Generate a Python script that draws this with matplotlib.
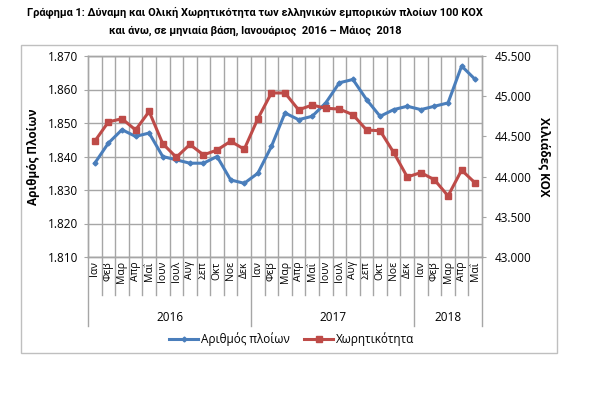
import matplotlib
matplotlib.use("Agg")
import matplotlib.pyplot as plt
from matplotlib.lines import Line2D
from matplotlib.patches import Rectangle
from matplotlib.ticker import FuncFormatter, MultipleLocator

plt.rcParams['font.family'] = ['Open Sans', 'DejaVu Sans']

months = ["Ιαν", "Φεβ", "Μαρ", "Απρ", "Μαΐ", "Ιουν", "Ιουλ", "Αυγ", "Σεπ", "Οκτ", "Νοε", "Δεκ",
          "Ιαν", "Φεβ", "Μαρ", "Απρ", "Μαΐ", "Ιουν", "Ιουλ", "Αυγ", "Σεπ", "Οκτ", "Νοε", "Δεκ",
          "Ιαν", "Φεβ", "Μαρ", "Απρ", "Μαΐ"]
years = ["2016", "2017", "2018"]
year_counts = [12, 12, 5]

ships = [1838, 1844, 1848, 1846, 1847, 1840, 1839, 1838, 1838, 1840, 1833, 1832,
         1835, 1843, 1853, 1851, 1852, 1856, 1862, 1863, 1857, 1852, 1854, 1855,
         1854, 1855, 1856, 1867, 1863]
capacity = [44440, 44680, 44720, 44580, 44810, 44410, 44240, 44400, 44270, 44330, 44440, 44340,
            44720, 45040, 45040, 44830, 44890, 44850, 44840, 44770, 44580, 44570, 44300, 43995,
            44050, 43960, 43760, 44080, 43920]

title = ("Γράφημα 1: Δύναμη και Ολική Χωρητικότητα των ελληνικών εμπορικών πλοίων 100 ΚΟΧ\n"
         "και άνω, σε μηνιαία βάση, Ιανουάριος  2016 – Μάιος  2018")

W, H = 590, 393
fig = plt.figure(figsize=(W / 100, H / 100), dpi=100)
fig.patch.set_facecolor("white")

# outer chart border
fig.patches.append(Rectangle((21 / W, 1 - 353 / H), 536 / W, 308 / H, transform=fig.transFigure,
                             fill=False, edgecolor="#bfbfbf", linewidth=1.0))

fig.text(255 / W, 1 - 21 / H, title, ha="center", va="center", fontsize=7.9,
         fontweight="bold", linespacing=2.0,
         family=['Roboto', 'DejaVu Sans'])

ax = fig.add_axes([88 / W, 1 - 257 / H, (482 - 88) / W, (257 - 56) / H])
ax2 = ax.twinx()

x = list(range(len(months)))
blue = "#4a7ebb"
red = "#be4b48"
grid_c = "#a6a6a6"

ax.plot(x, ships, color=blue, linewidth=2.2, marker="D", markersize=2.5, zorder=3)
ax2.plot(x, capacity, color=red, linewidth=2.2, marker="s", markersize=4, zorder=3)

ax.set_xlim(-0.5, len(months) - 0.5)
ax.set_ylim(1810, 1870)
ax2.set_ylim(43000, 45500)
ax.yaxis.set_major_locator(MultipleLocator(10))
ax2.yaxis.set_major_locator(MultipleLocator(500))
fmt = FuncFormatter(lambda v, p: f"{int(round(v)):,}".replace(",", "."))
ax.yaxis.set_major_formatter(fmt)
ax2.yaxis.set_major_formatter(fmt)

ax.set_xticks(x)
ax.set_xticklabels(months, rotation=90, fontsize=7.5, va="top", ha="center")
ax.set_xticks([i - 0.5 for i in range(1, len(months))], minor=True)
ax.tick_params(axis="x", which="both", length=0, pad=3)
ax.tick_params(axis="y", labelsize=8.5, length=3, color=grid_c, pad=4)
ax2.tick_params(axis="y", labelsize=8.5, length=3, color=grid_c, pad=6)

ax.grid(axis="y", which="major", color=grid_c, linewidth=1.0)
ax.grid(axis="x", which="minor", color=grid_c, linewidth=1.0)
ax.set_axisbelow(True)
for a in (ax, ax2):
    for s in a.spines.values():
        s.set_color(grid_c)
        s.set_linewidth(1.0)

ax.set_ylabel("Αριθμός Πλοίων", fontsize=8.5, fontweight="bold", labelpad=6)
ax2.set_ylabel("Χιλιάδες ΚΟΧ", fontsize=8.5, fontweight="bold", rotation=270, labelpad=14)

# category separators below axis
tr = ax.get_xaxis_transform()
bounds = [-0.5]
c = -0.5
for n in year_counts:
    c += n
    bounds.append(c)
for i in range(len(months) + 1):
    b = i - 0.5
    depth = -0.343 if b in bounds else -0.189
    ax.plot([b, b], [0, depth], transform=tr, color=grid_c, linewidth=1.0, clip_on=False)
start = 0
for yl, n in zip(years, year_counts):
    ax.text(start + (n - 1) / 2, -0.30, yl, transform=tr, ha="center", va="center", fontsize=8.5)
    start += n

handles = [Line2D([], [], color=blue, linewidth=2.2, marker="D", markersize=2.5),
           Line2D([], [], color=red, linewidth=2.2, marker="s", markersize=4)]
fig.legend(handles, ["Αριθμός πλοίων", "Χωρητικότητα"], loc="center",
           bbox_to_anchor=(292 / W, 1 - 339 / H), ncol=2, frameon=False, fontsize=8.5,
           handlelength=2.4, handletextpad=0.3, columnspacing=1.2)

fig.savefig("out.png", dpi=100)
